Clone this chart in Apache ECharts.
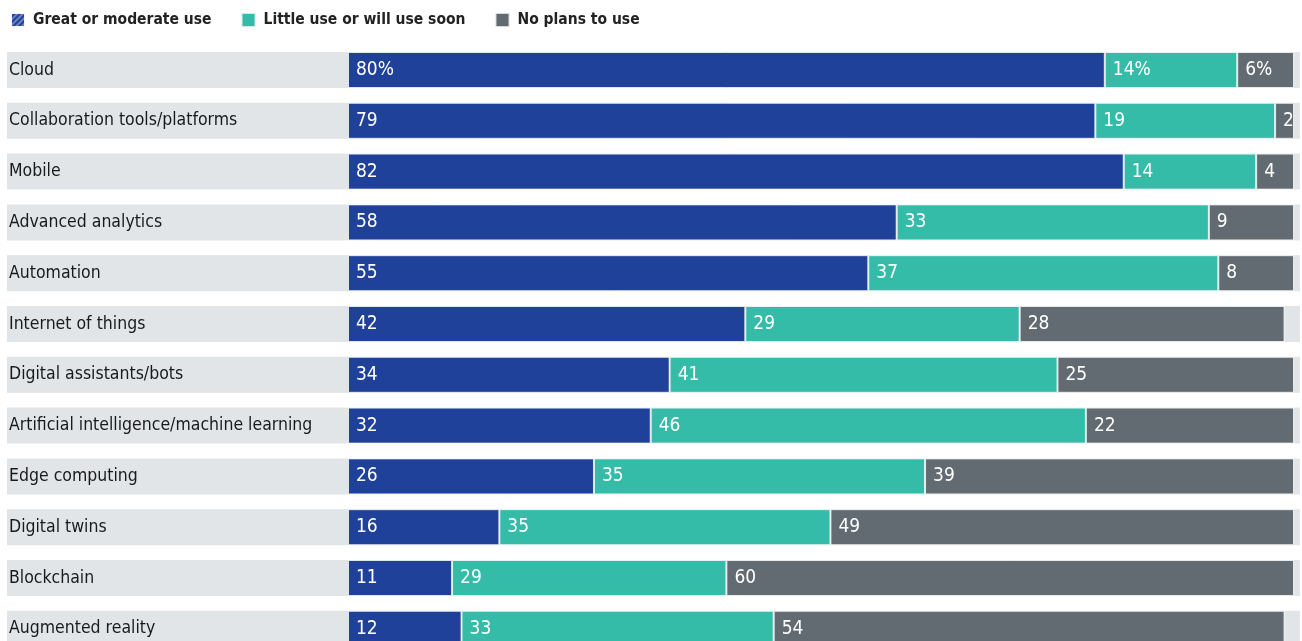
<!DOCTYPE html>
<html><head><meta charset="utf-8">
<script src="https://cdn.jsdelivr.net/npm/echarts@6/dist/echarts.min.js"></script>
<style>html,body{margin:0;padding:0;background:#fff;overflow:hidden}#c{width:1302px;height:670px}</style>
</head><body><div id="c"></div>
<script>
const categories = ["Cloud","Collaboration tools/platforms","Mobile","Advanced analytics","Automation","Internet of things","Digital assistants/bots","Artificial intelligence/machine learning","Edge computing","Digital twins","Blockchain","Augmented reality"];
const greatUse = [80,79,82,58,55,42,34,32,26,16,11,12];
const littleUse = [14,19,14,33,37,29,41,46,35,35,29,33];
const noPlans = [6,2,4,9,8,28,25,22,39,49,60,54];
const seriesNames = ["Great or moderate use","Little use or will use soon","No plans to use"];
const bandFull = categories.map(() => 1);

const FONT = '"DejaVu Sans Condensed","Liberation Sans Narrow","Roboto",sans-serif';
const colors = ['#1f4199','#34bca8','#626b71'];
const chart = echarts.init(document.getElementById('c'), null, {renderer:'canvas'});
const rowTop = 44.6, rowH = 609.6;

function seg(name, data, color){
  return {
    name: name, type:'bar', stack:'s', xAxisIndex:1, yAxisIndex:1,
    data: data, barWidth: 36,
    itemStyle:{color:color, borderColor:'rgba(255,255,255,0.75)', borderWidth:1},
    label:{show:true, position:'insideLeft', distance:8, color:'#fff', fontFamily:FONT, fontSize:19,
      formatter: p => p.dataIndex === 0 ? p.value + '%' : String(p.value)},
    emphasis:{disabled:true}
  };
}

chart.setOption({
  animation:false,
  color: colors,
  legend:{
    left: 5, top: 7, itemWidth:14, itemHeight:14, itemGap:29, icon:'rect',
    textStyle:{fontFamily:FONT, fontSize:15.5, fontWeight:'bold', color:'#222', padding:[0,0,0,3]},
    data:[
      {name:seriesNames[0], itemStyle:{color:colors[0], decal:{symbol:'rect', dashArrayX:[1,0], dashArrayY:[2,2], rotation:-Math.PI/4, color:'rgba(255,255,255,0.35)', symbolSize:1}}},
      {name:seriesNames[1]},
      {name:seriesNames[2]}
    ],
    selectedMode:false
  },
  grid:[
    {left:7, right:2, top:rowTop, height:rowH},
    {left:348, right:8, top:rowTop, height:rowH}
  ],
  xAxis:[
    {gridIndex:0, type:'value', min:0, max:1, show:false},
    {gridIndex:1, type:'value', min:0, max:100, show:false}
  ],
  yAxis:[
    {gridIndex:0, type:'category', data:categories, inverse:true,
      axisLine:{show:false}, axisTick:{show:false},
      axisLabel:{inside:true, margin:2, color:'#1a1a1a', fontFamily:FONT, fontSize:17.5, align:'left'}},
    {gridIndex:1, type:'category', data:categories, inverse:true, show:false}
  ],
  series:[
    {name:'band', type:'bar', xAxisIndex:0, yAxisIndex:0, data:bandFull, barWidth:36, z:0, silent:true,
      itemStyle:{color:'#e1e5e8'}, emphasis:{disabled:true}},
    seg(seriesNames[0], greatUse, colors[0]),
    seg(seriesNames[1], littleUse, colors[1]),
    seg(seriesNames[2], noPlans, colors[2])
  ]
});
</script></body></html>
